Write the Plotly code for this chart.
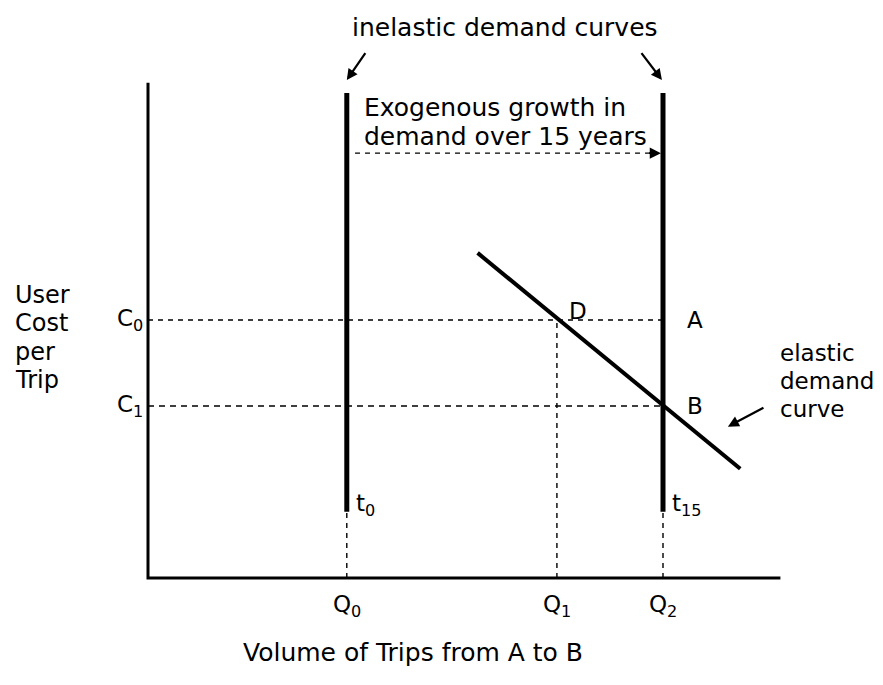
import plotly.graph_objects as go

# ---------------------------------------------------------------------------
# Diagram values (chart units: x = volume of trips, y = user cost per trip)
# ---------------------------------------------------------------------------
Q_NAMES = ["Q<sub>0</sub>", "Q<sub>1</sub>", "Q<sub>2</sub>"]
Q_VALUES = [1.93, 3.97, 5.0]
C_NAMES = ["C<sub>0</sub>", "C<sub>1</sub>"]
C_VALUES = [3.0, 2.0]
T_NAMES = ["t<sub>0</sub>", "t<sub>15</sub>"]

INELASTIC_Y = [0.77, 5.64]      # bottom / top of the vertical demand curves
ELASTIC_X = [3.2, 5.75]
ELASTIC_Y = [3.78, 1.27]
AXIS_X_END = 6.14
AXIS_Y_END = 5.76
GROWTH_Y = 4.94                 # level of the exogenous growth arrow

# px per unit, used to place the origin at the same spot as the original
_UX, _UY = 103.0, 86.0
_PAGE_PAD = 8                   # default body margin of the html page
_W, _H = 883 - 2 * _PAGE_PAD, 685 - 2 * _PAGE_PAD
_ORIGIN_PX = (148 - _PAGE_PAD, 578 - _PAGE_PAD)

_FONT = "'DejaVu Sans', sans-serif"
_FS = 23
_FS_MID = 24
_FS_BIG = 25
_BLACK = "#000000"

fig = go.Figure()


def _line(x, y, width, dash="solid"):
    fig.add_trace(
        go.Scatter(
            x=x, y=y, mode="lines",
            line={"color": _BLACK, "width": width, "dash": dash},
            hoverinfo="skip", showlegend=False,
        )
    )


def _text(x, y, text, xanchor="center", size=_FS):
    fig.add_annotation(
        x=x, y=y, text=text, showarrow=False, xanchor=xanchor,
        yanchor="middle", font={"family": _FONT, "size": size, "color": _BLACK},
    )


def _arrow(x0, y0, x1, y1, width=2.2, head=1.0):
    fig.add_annotation(
        x=x1, y=y1, ax=x0, ay=y0, xref="x", yref="y", axref="x", ayref="y",
        text="", showarrow=True, arrowhead=2, arrowsize=head,
        arrowwidth=width, arrowcolor=_BLACK,
    )


q0, q1, q2 = Q_VALUES
c0, c1 = C_VALUES

# dashed guide lines
_line([0, q2], [c0, c0], 1.4, "5px,5px")
_line([0, q2], [c1, c1], 1.6, "6px,5px")
_line([q1, q1], [0, c0], 1.4, "5px,5px")
_line([q0, q0], [0, INELASTIC_Y[0]], 1.4, "5px,5px")
_line([q2, q2], [0, INELASTIC_Y[0]], 1.4, "5px,5px")
_line([q0 + 0.08, q2 - 0.1], [GROWTH_Y, GROWTH_Y], 1.4, "5px,5px")

# axes
_line([0, 0, AXIS_X_END], [AXIS_Y_END, 0, 0], 3)

# inelastic demand curves
_line([q0, q0], INELASTIC_Y, 5)
_line([q2, q2], INELASTIC_Y, 5)

# elastic demand curve
_line(ELASTIC_X, ELASTIC_Y, 4)

# arrows
_arrow(q2 - 0.15, GROWTH_Y, q2 - 0.02, GROWTH_Y, width=1.6, head=1.4)
_arrow(2.12, 6.12, q0 + 0.0, 5.79)
_arrow(4.78, 6.12, q2 - 0.01, 5.79)
_arrow(5.99, 1.99, 5.63, 1.76)

# axis labels
for name, q in zip(Q_NAMES, Q_VALUES):
    _text(q, -0.32, name)
for name, c in zip(C_NAMES, C_VALUES):
    _text(-0.17, c, name)
for name, q in zip(T_NAMES, [q0, q2]):
    _text(q + 0.07, 0.85, name, xanchor="left")

_text(4.17, 3.1, "D")
_text(5.31, 3.0, "A")
_text(5.31, 2.0, "B")

for i, word in enumerate(["User", "Cost", "per", "Trip"]):
    _text(-1.31, 3.29 - i * 0.33, word, xanchor="left", size=_FS_MID)

_text(3.47, 6.4, "inelastic demand curves", size=_FS_BIG)
_text(2.08, 5.47, "Exogenous growth in", xanchor="left", size=_FS_BIG)
_text(2.08, 5.13, "demand over 15 years", xanchor="left", size=_FS_BIG)

for i, word in enumerate(["elastic", "demand", "curve"]):
    _text(6.12, 2.62 - i * 0.33, word, xanchor="left")

_text(2.57, -0.87, "Volume of Trips from A to B", size=_FS_BIG)

ox, oy = _ORIGIN_PX
fig.update_layout(
    width=_W, height=_H,
    margin={"l": 0, "r": 0, "t": 0, "b": 0},
    paper_bgcolor="white", plot_bgcolor="white",
    xaxis={"range": [-ox / _UX, (_W - ox) / _UX], "visible": False},
    yaxis={"range": [-(_H - oy) / _UY, oy / _UY], "visible": False},
    showlegend=False,
)

fig.write_html("out.html", config={"displayModeBar": False})
